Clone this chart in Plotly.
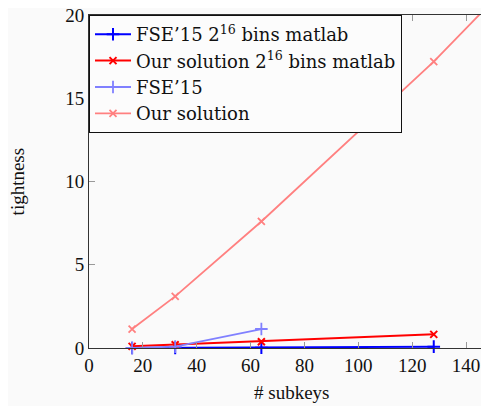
import plotly.graph_objects as go

subkeys = [16, 32, 64, 128]
fse_matlab = [0.0, 0.01, 0.02, 0.08]
our_matlab = [0.1, 0.2, 0.38, 0.82]
fse_x = [16, 32, 64]
fse = [0.0, 0.08, 1.14]
our_x = [16, 32, 64, 128, 256]
our = [1.14, 3.1, 7.6, 17.2, 38.5]

x_ticks = [0, 20, 40, 60, 80, 100, 120, 140]
y_ticks = [0, 5, 10, 15, 20]

FONT = "Liberation Serif, Times New Roman, serif"
LEGEND_FONT = "DejaVu Serif, serif"

fig = go.Figure()
fig.add_trace(go.Scatter(x=subkeys, y=fse_matlab, mode="lines+markers",
                         name="FSE’15 2<sup>16</sup> bins matlab",
                         line=dict(color="#0000ff", width=2),
                         marker=dict(symbol="cross-thin", size=9, line=dict(color="#0000ff", width=2)),
                         cliponaxis=False))
fig.add_trace(go.Scatter(x=subkeys, y=our_matlab, mode="lines+markers",
                         name="Our solution 2<sup>16</sup> bins matlab",
                         line=dict(color="#ff0000", width=2),
                         marker=dict(symbol="x-thin", size=7, line=dict(color="#ff0000", width=2)),
                         cliponaxis=False))
fig.add_trace(go.Scatter(x=fse_x, y=fse, mode="lines+markers",
                         name="FSE’15",
                         line=dict(color="#8080ff", width=1.8),
                         marker=dict(symbol="cross-thin", size=9, line=dict(color="#8080ff", width=1.8)),
                         cliponaxis=False))
fig.add_trace(go.Scatter(x=our_x, y=our, mode="lines+markers",
                         name="Our solution",
                         line=dict(color="#ff8080", width=1.8),
                         marker=dict(symbol="x-thin", size=7, line=dict(color="#ff8080", width=1.8)),
                         cliponaxis=False))

axis_common = dict(showline=True, linecolor="#333333", linewidth=1, mirror="ticks",
                   ticks="inside", ticklen=6, tickcolor="#999999", tickwidth=1,
                   showgrid=False, zeroline=False, automargin=False,
                   ticklabeloverflow="allow",
                   tickfont=dict(family=FONT, size=19, color="#111111"))

fig.update_layout(
    width=489, height=406,
    margin=dict(l=81, r=4, t=7, b=66, autoexpand=False),
    paper_bgcolor="#fafafa", plot_bgcolor="#fafafa",
    font=dict(family=FONT, size=18, color="#111111"),
    xaxis=dict(range=[0, 150], tickvals=x_ticks, **axis_common),
    yaxis=dict(range=[0, 20], tickvals=y_ticks, **axis_common),
    legend=dict(x=0, y=1, xanchor="left", yanchor="top",
                bgcolor="#fcfcfc", bordercolor="#111111", borderwidth=1,
                font=dict(family=LEGEND_FONT, size=18, color="#111111"), itemwidth=36),
    showlegend=True,
    annotations=[
        dict(text="# subkeys", xref="paper", yref="paper", x=0.5, y=-0.135,
             xanchor="center", yanchor="middle", showarrow=False,
             font=dict(family=FONT, size=19, color="#111111")),
        dict(text="tightness", xref="paper", yref="paper", x=-0.176, y=0.5,
             xanchor="center", yanchor="middle", showarrow=False, textangle=-90,
             font=dict(family=FONT, size=19, color="#111111")),
    ],
)

fig.write_html("out.html")
